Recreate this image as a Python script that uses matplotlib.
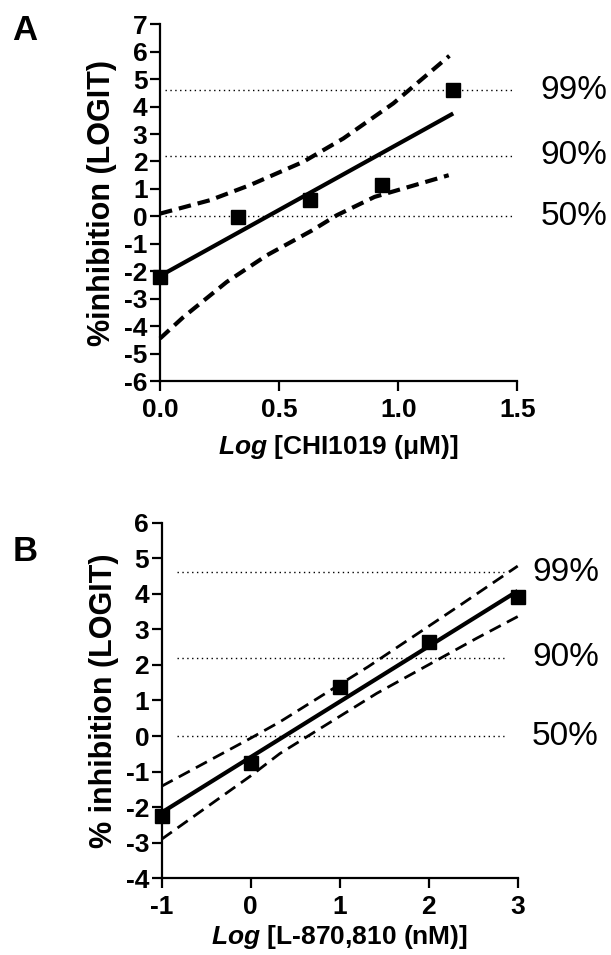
import numpy as np
import matplotlib
matplotlib.use("Agg")
import matplotlib.pyplot as plt

plt.rcParams['font.family'] = ['Liberation Sans', 'DejaVu Sans']
plt.rcParams['mathtext.fontset'] = 'custom'
plt.rcParams['mathtext.it'] = 'Liberation Sans:bold:italic'
plt.rcParams['mathtext.rm'] = 'Liberation Sans:bold'
plt.rcParams['lines.scale_dashes'] = False
plt.rcParams['axes.unicode_minus'] = False

# ============ Data ============

# Panel A: CHI1019
a_x = [0.0, 0.329, 0.630, 0.931, 1.231]
a_y = [-2.21, -0.02, 0.61, 1.14, 4.60]
a_fit_x = [0.0, 1.231]
a_fit_y = [-2.17, 3.75]
a_up_x = [0.0, 0.210, 0.378, 0.602, 0.770, 0.980, 1.215]
a_up_y = [0.10, 0.59, 1.14, 1.99, 2.84, 4.12, 5.85]
a_lo_x = [0.0, 0.098, 0.280, 0.448, 0.639, 0.742, 0.901, 1.212]
a_lo_y = [-4.45, -3.67, -2.39, -1.42, -0.51, 0.04, 0.71, 1.50]

# Panel B: L-870,810
b_x = [-1, 0, 1, 2, 3]
b_y = [-2.25, -0.75, 1.39, 2.64, 3.90]
b_fit_x = [-1.0, 3.0]
b_fit_y = [-2.15, 4.08]
b_up_x = [-1.0, 0.0, 0.329, 1.32, 2.371, 3.0]
b_up_y = [-1.41, -0.06, 0.40, 1.95, 3.71, 4.78]
b_lo_x = [-1.0, 0.0, 0.329, 1.416, 2.539, 3.0]
b_lo_y = [-2.90, -1.12, -0.49, 1.20, 2.75, 3.36]

# logit reference levels
ref_levels = [4.6, 2.2, 0.0]
ref_labels = ["99%", "90%", "50%"]

TICK_FS = 19


def style_axes(ax):
    for side in ("top", "right"):
        ax.spines[side].set_visible(False)
    for side in ("left", "bottom"):
        ax.spines[side].set_linewidth(1.6)
    ax.tick_params(direction="out", length=7, width=1.6, labelsize=TICK_FS, pad=2)
    ax.tick_params(axis="x", pad=5)
    for lab in ax.get_xticklabels() + ax.get_yticklabels():
        lab.set_fontweight("bold")


def draw_panel(ax, px, py, fx, fy, ux, uy, lx, ly, ref_span, label_x, dash_lw, ms):
    for lvl, txt in zip(ref_levels, ref_labels):
        ax.plot(ref_span, [lvl, lvl], color="black", lw=1.0,
                linestyle=(0, (1, 2.5)), clip_on=False)
        ax.text(label_x, lvl, txt, transform=ax.get_yaxis_transform(),
                fontsize=24, va="center", ha="left")
    ax.plot(ux, uy, color="black", lw=dash_lw, dashes=(9, 5), clip_on=False)
    ax.plot(lx, ly, color="black", lw=dash_lw, dashes=(9, 5), clip_on=False)
    ax.plot(fx, fy, color="black", lw=3.0, solid_capstyle="butt", clip_on=False)
    ax.plot(px, py, "s", color="black", ms=ms, clip_on=False, zorder=5)


fig = plt.figure(figsize=(6.11, 9.55), dpi=100)

# ---- Panel A ----
axA = fig.add_axes([0.2619, 0.6010, 0.5847, 0.3736])
draw_panel(axA, a_x, a_y, a_fit_x, a_fit_y, a_up_x, a_up_y, a_lo_x, a_lo_y,
           [0.02, 1.49], 1.065, 3.0, 10.5)
axA.set_xlim(0, 1.5)
axA.set_ylim(-6, 7)
axA.set_xticks([0.0, 0.5, 1.0, 1.5])
axA.set_xticklabels(["0.0", "0.5", "1.0", "1.5"])
axA.set_yticks(range(-6, 8))
style_axes(axA)
axA.set_xlabel(r"$\mathit{Log}$ [CHI1019 ($\mathrm{\mu}$M)]", fontsize=19,
               fontweight="bold", labelpad=8)
axA.set_ylabel("%inhibition (LOGIT)", fontsize=22, fontweight="bold", labelpad=5)
fig.text(0.041, 0.968, "A", fontsize=25, fontweight="bold", ha="center", va="center")

# ---- Panel B ----
axB = fig.add_axes([0.2646, 0.0803, 0.5827, 0.3724])
draw_panel(axB, b_x, b_y, b_fit_x, b_fit_y, b_up_x, b_up_y, b_lo_x, b_lo_y,
           [-0.83, 2.85], 1.04, 2.0, 9.5)
axB.set_xlim(-1, 3)
axB.set_ylim(-4, 6)
axB.set_xticks([-1, 0, 1, 2, 3])
axB.set_yticks(range(-4, 7))
style_axes(axB)
axB.set_xlabel(r"$\mathit{Log}$ [L-870,810 (nM)]", fontsize=19,
               fontweight="bold", labelpad=3)
axB.set_ylabel("% inhibition (LOGIT)", fontsize=22, fontweight="bold", labelpad=5)
fig.text(0.041, 0.422, "B", fontsize=25, fontweight="bold", ha="center", va="center")

fig.savefig("out.png", dpi=100)
